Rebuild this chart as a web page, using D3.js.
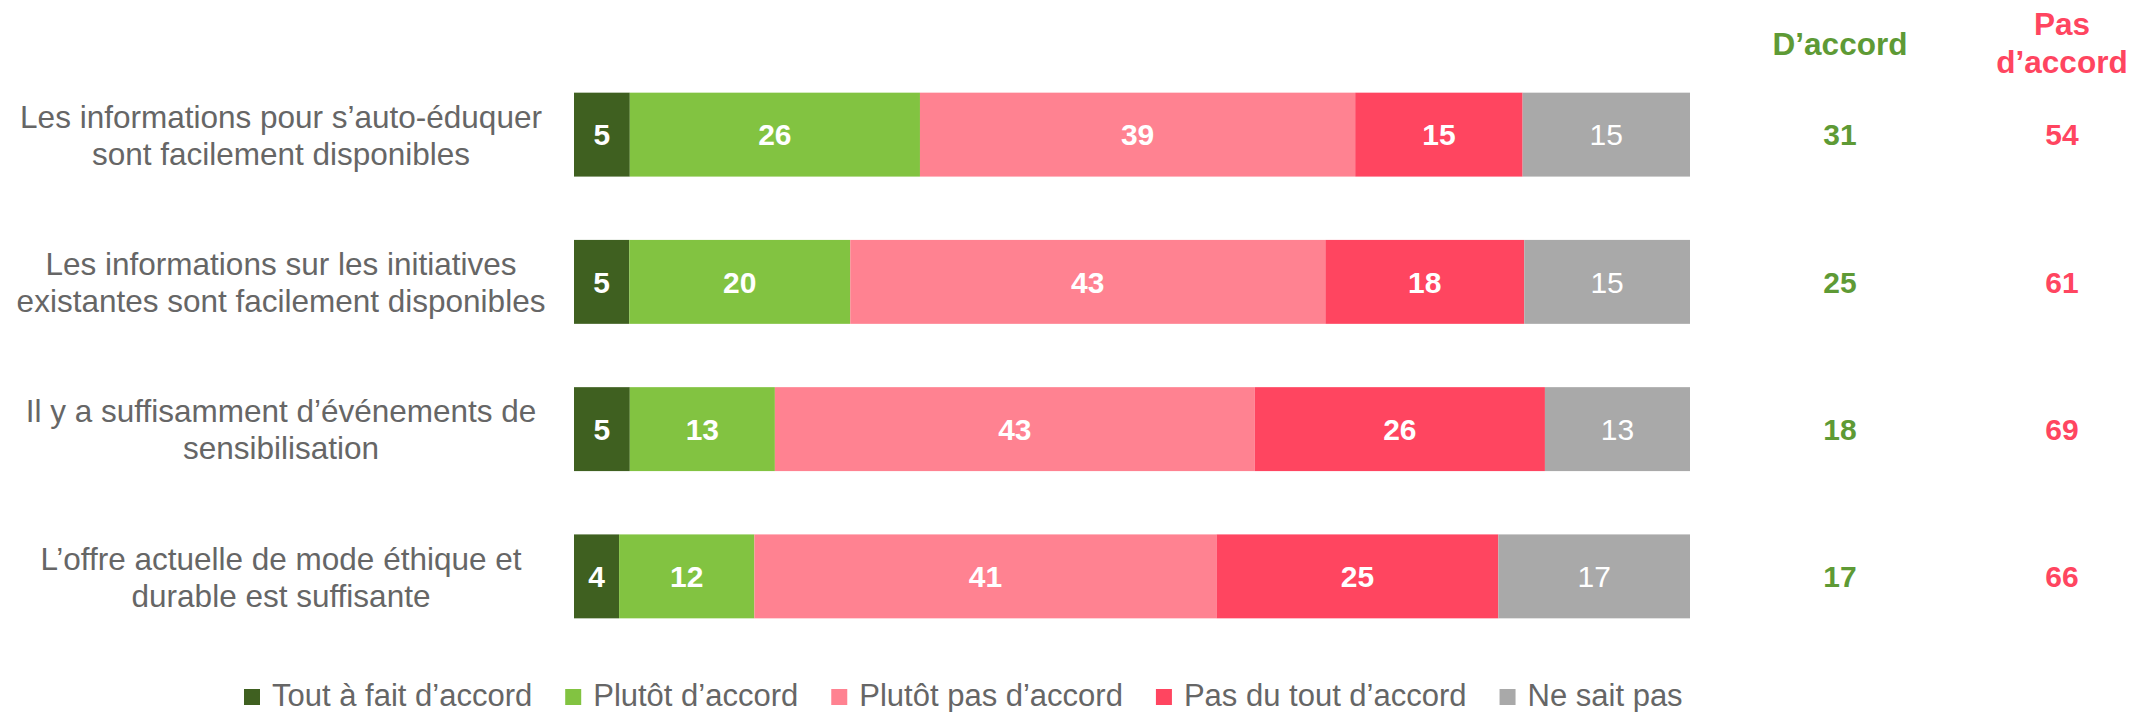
<!DOCTYPE html>
<html>
<head>
<meta charset="utf-8">
<script src="https://cdn.jsdelivr.net/npm/d3@7"></script>
<style>
  body { margin: 0; background: #fff; }
  svg { display: block; font-family: "Liberation Sans", Arial, sans-serif; }
</style>
</head>
<body>
<div class="chart"></div>
<script>
'use strict';

// Data
var categories = [
  ["Les informations pour s\u2019auto-\u00e9duquer", "sont facilement disponibles"],
  ["Les informations sur les initiatives", "existantes sont facilement disponibles"],
  ["Il y a suffisamment d\u2019\u00e9v\u00e9nements de", "sensibilisation"],
  ["L\u2019offre actuelle de mode \u00e9thique et", "durable est suffisante"]
];
var seriesNames = ["Tout \u00e0 fait d\u2019accord", "Plut\u00f4t d\u2019accord", "Plut\u00f4t pas d\u2019accord", "Pas du tout d\u2019accord", "Ne sait pas"];
var toutAFait = [5, 5, 5, 4];
var plutotAccord = [26, 20, 13, 12];
var plutotPas = [39, 43, 43, 41];
var pasDuTout = [15, 18, 26, 25];
var neSaitPas = [15, 15, 13, 17];
var totalAccord = [31, 25, 18, 17];
var totalPasAccord = [54, 61, 69, 66];

(function() {
  var COLORS = ["#3f6020", "#82c341", "#ff8291", "#ff4560", "#a9a9a9"];
  var GREEN_TXT = "#5e9a35";
  var RED_TXT = "#ff4560";
  var GREY_TXT = "#666666";

  var w = 2136;
  var h = 712;
  var barLeft = 574;
  var barRight = 1690;
  var barTop = 61;
  var barBottom = 650;

  var seriesValues = [toutAFait, plutotAccord, plutotPas, pasDuTout, neSaitPas];
  var keys = seriesNames;

  var rows = categories.map(function(c, i) {
    var row = { idx: i };
    keys.forEach(function(k, j) { row[k] = seriesValues[j][i]; });
    return row;
  });

  // rounded values do not always add to 100: stack to full width
  var stacked = d3.stack()
    .keys(keys)
    .offset(d3.stackOffsetExpand)(rows);

  var xScale = d3.scaleLinear()
    .domain([0, 1])
    .range([barLeft, barRight]);

  var yScale = d3.scaleBand()
    .domain(d3.range(categories.length))
    .range([barTop, barBottom])
    .paddingInner(0.43)
    .paddingOuter(0.215);

  var rowMid = function(i) { return yScale(i) + yScale.bandwidth() / 2; };

  var svg = d3.select(".chart")
    .append("svg")
    .attr("width", w)
    .attr("height", h);

  // Bars
  var layer = svg.append("g")
    .attr("class", "data")
    .selectAll("g")
    .data(stacked)
    .enter()
    .append("g")
    .attr("fill", function(d, i) { return COLORS[i]; });

  layer.selectAll("rect")
    .data(function(d) { return d; })
    .enter()
    .append("rect")
    .attr("x", function(d) { return xScale(d[0]); })
    .attr("y", function(d) { return yScale(d.data.idx); })
    .attr("width", function(d) { return xScale(d[1]) - xScale(d[0]); })
    .attr("height", yScale.bandwidth());

  // Bar labels
  layer.each(function(s, si) {
    d3.select(this).selectAll("text")
      .data(s)
      .enter()
      .append("text")
      .attr("x", function(d) { return (xScale(d[0]) + xScale(d[1])) / 2; })
      .attr("y", function(d) { return rowMid(d.data.idx); })
      .attr("dy", "0.36em")
      .attr("text-anchor", "middle")
      .attr("fill", "#fff")
      .attr("font-size", "30px")
      .attr("font-weight", si === 4 ? "normal" : "bold")
      .text(function(d) { return d.data[s.key]; });
  });

  // Category labels
  var cat = svg.append("g")
    .attr("class", "categories")
    .selectAll("text")
    .data(categories)
    .enter()
    .append("text")
    .attr("text-anchor", "middle")
    .attr("fill", GREY_TXT)
    .attr("font-size", "31.5px")
    .attr("transform", function(d, i) {
      return "translate(281," + rowMid(i) + ")";
    });
  cat.selectAll("tspan")
    .data(function(d) { return d; })
    .enter()
    .append("tspan")
    .attr("x", 0)
    .attr("y", function(d, i) { return i === 0 ? -18 : 19; })
    .attr("dy", "0.36em")
    .text(function(d) { return d; });

  // Summary columns
  var colAcc = 1840;
  var colPas = 2062;

  svg.append("text")
    .attr("x", colAcc).attr("y", 55)
    .attr("text-anchor", "middle")
    .attr("fill", GREEN_TXT)
    .attr("font-size", "31.5px").attr("font-weight", "bold")
    .text("D\u2019accord");

  var pasHead = svg.append("text")
    .attr("text-anchor", "middle")
    .attr("fill", RED_TXT)
    .attr("font-size", "31.5px").attr("font-weight", "bold");
  pasHead.append("tspan").attr("x", colPas).attr("y", 35).text("Pas");
  pasHead.append("tspan").attr("x", colPas).attr("y", 73).text("d\u2019accord");

  svg.append("g")
    .selectAll("text")
    .data(totalAccord)
    .enter()
    .append("text")
    .attr("x", colAcc)
    .attr("y", function(d, i) { return rowMid(i); })
    .attr("dy", "0.36em")
    .attr("text-anchor", "middle")
    .attr("fill", GREEN_TXT)
    .attr("font-size", "30px").attr("font-weight", "bold")
    .text(function(d) { return d; });

  svg.append("g")
    .selectAll("text")
    .data(totalPasAccord)
    .enter()
    .append("text")
    .attr("x", colPas)
    .attr("y", function(d, i) { return rowMid(i); })
    .attr("dy", "0.36em")
    .attr("text-anchor", "middle")
    .attr("fill", RED_TXT)
    .attr("font-size", "30px").attr("font-weight", "bold")
    .text(function(d) { return d; });

  // Legend
  var legend = svg.append("g").attr("class", "legend");
  var lx = 244;
  var ly = 697;
  seriesNames.forEach(function(name, i) {
    legend.append("rect")
      .attr("x", lx)
      .attr("y", ly - 8)
      .attr("width", 16)
      .attr("height", 16)
      .attr("fill", COLORS[i]);
    var t = legend.append("text")
      .attr("x", lx + 28)
      .attr("y", 706)
      .attr("fill", GREY_TXT)
      .attr("font-size", "31px")
      .text(name);
    lx += 28 + t.node().getComputedTextLength() + 33;
  });
})();
</script>
</body>
</html>
